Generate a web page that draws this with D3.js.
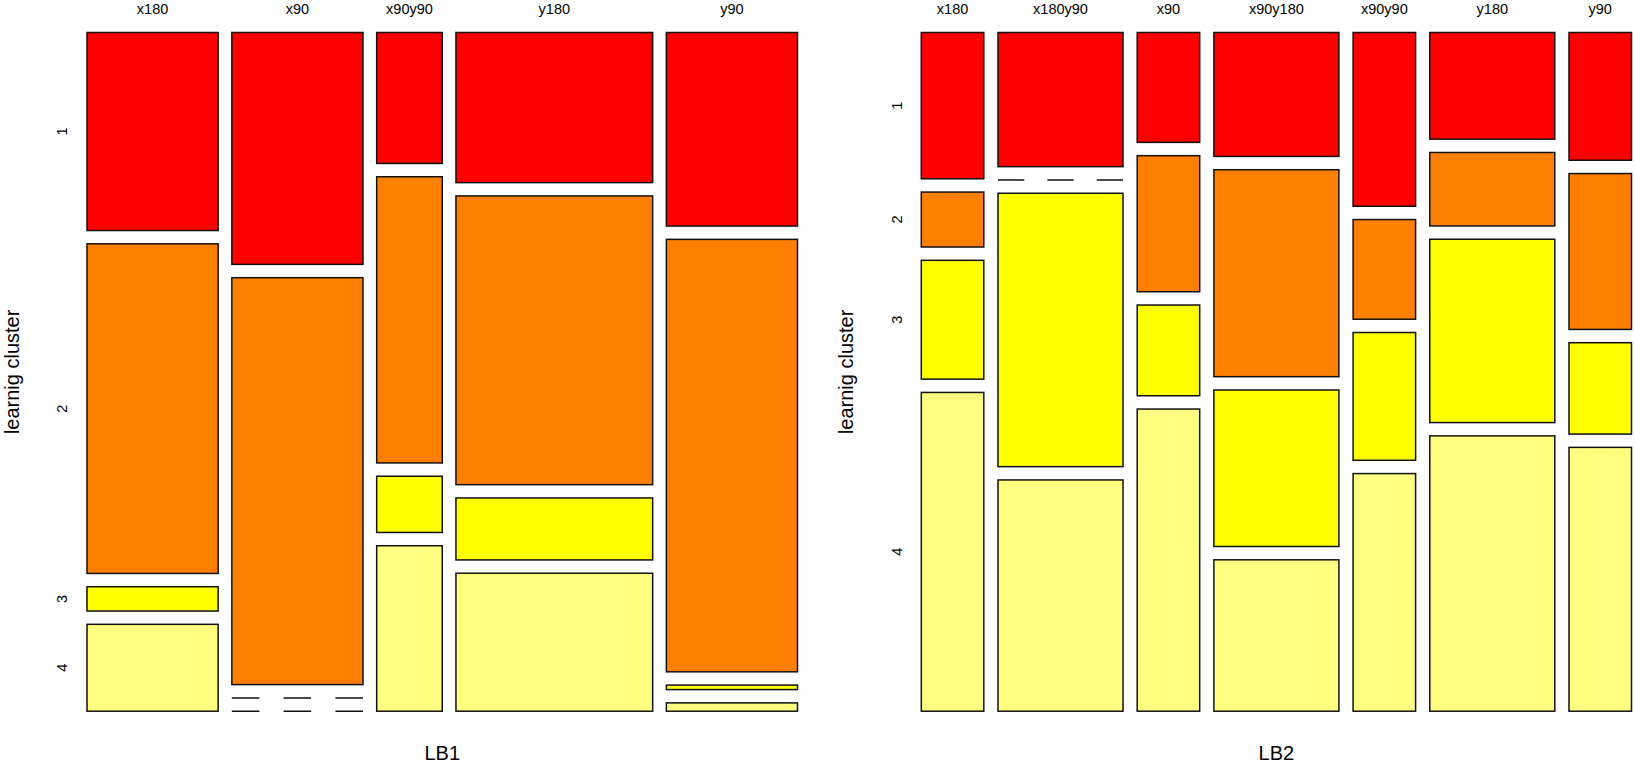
<!DOCTYPE html>
<html>
<head>
<meta charset="utf-8">
<script src="https://cdn.jsdelivr.net/npm/d3@7"></script>
<style>
    body { margin: 0; background: #fff; }
    svg text { font-family: "Liberation Sans", Arial, sans-serif; fill: #000; }
</style>
</head>
<body>
<div id="mosaic"></div>
<script>
// Learning cluster levels (rows) and their fill colours (heat colours)
const clusters = ["1", "2", "3", "4"];
const clusterColors = ["#FF0000", "#FF8000", "#FFFF00", "#FFFF80"];

// LB1 categories, column weights (% of total) and cluster shares within each column (%)
const lb1Levels = ["x180", "x90", "x90y90", "y180", "y90"];
const lb1Weights = [20, 20, 10, 30, 20];
const lb1Shares = [
    [31.0, 51.6, 3.8, 13.6],
    [36.3, 63.7, 0, 0],
    [20.5, 44.8, 8.8, 25.9],
    [23.5, 45.2, 9.7, 21.6],
    [30.3, 67.7, 0.7, 1.3]
];

// LB2 categories, column weights and cluster shares
const lb2Levels = ["x180", "x180y90", "x90", "x90y180", "x90y90", "y180", "y90"];
const lb2Weights = [10, 20, 10, 20, 10, 20, 10];
const lb2Shares = [
    [22.9, 8.6, 18.6, 49.9],
    [21.0, 0, 42.8, 36.2],
    [17.2, 21.3, 14.2, 47.3],
    [19.4, 32.4, 24.5, 23.7],
    [27.2, 15.6, 20.0, 37.2],
    [16.7, 11.5, 28.7, 43.1],
    [20.0, 24.4, 14.3, 41.3]
];

const width = 1635, height = 764;
const plotTop = 32.5, plotBottom = 711.2;
const vGap = 13.3;

const svg = d3.select("#mosaic")
    .append("svg")
    .attr("width", width)
    .attr("height", height);

// Draw one mosaic panel
function drawMosaic(levels, weights, shares, opt) {
    const g = svg.append("g");
    const n = levels.length;
    const totalW = d3.sum(weights);

    // gaps expressed in data units so that the scale includes them
    const hGapU = opt.hGap * totalW / ((opt.x1 - opt.x0) - (n - 1) * opt.hGap);
    const xScale = d3.scaleLinear()
        .domain([0, totalW + (n - 1) * hGapU])
        .range([opt.x0, opt.x1]);

    const nr = clusters.length;
    const vGapU = vGap * 100 / ((plotBottom - plotTop) - (nr - 1) * vGap);
    const yScale = d3.scaleLinear()
        .domain([0, 100 + (nr - 1) * vGapU])
        .range([plotTop, plotBottom]);

    // Build cells
    const cells = [];
    let cumX = 0;
    levels.forEach((lev, i) => {
        const xl = xScale(cumX + i * hGapU);
        const xr = xScale(cumX + weights[i] + i * hGapU);
        let cumY = 0;
        clusters.forEach((c, j) => {
            const v = shares[i][j];
            cells.push({
                col: i, row: j, value: v,
                x0: xl, x1: xr,
                y0: yScale(cumY + j * vGapU),
                y1: yScale(cumY + v + j * vGapU)
            });
            cumY += v;
        });
        // column label
        g.append("text")
            .attr("x", (xl + xr) / 2)
            .attr("y", 13.5)
            .attr("text-anchor", "middle")
            .style("font-size", "14.5px")
            .text(lev);
        cumX += weights[i];
    });

    // Non-empty cells as rectangles
    g.selectAll(".cell")
        .data(cells.filter(d => d.value > 0))
        .enter()
        .append("rect")
        .attr("class", "cell")
        .attr("x", d => d.x0)
        .attr("y", d => d.y0)
        .attr("width", d => d.x1 - d.x0)
        .attr("height", d => d.y1 - d.y0)
        .attr("fill", d => clusterColors[d.row])
        .attr("stroke", "#111")
        .attr("stroke-width", 1.5);

    // Empty cells as dashed lines
    g.selectAll(".zero")
        .data(cells.filter(d => d.value === 0))
        .enter()
        .append("line")
        .attr("class", "zero")
        .attr("x1", d => d.x0)
        .attr("x2", d => d.x1)
        .attr("y1", d => d.y0)
        .attr("y2", d => d.y0)
        .attr("stroke", "#111")
        .attr("stroke-width", 1.5)
        .attr("stroke-dasharray", d => {
            const w = d.x1 - d.x0;
            return `${w * 0.21},${w * 0.185}`;
        });

    // Row labels placed at the cells of the first column
    cells.filter(d => d.col === 0).forEach(d => {
        g.append("text")
            .attr("transform", `translate(${opt.tickX},${(d.y0 + d.y1) / 2}) rotate(-90)`)
            .attr("text-anchor", "middle")
            .style("font-size", "14.5px")
            .text(clusters[d.row]);
    });

    // Axis titles
    g.append("text")
        .attr("transform", `translate(${opt.labelX},${(plotTop + plotBottom) / 2}) rotate(-90)`)
        .attr("text-anchor", "middle")
        .style("font-size", "20px")
        .text("learnig cluster");

    g.append("text")
        .attr("x", (opt.x0 + opt.x1) / 2)
        .attr("y", 760)
        .attr("text-anchor", "middle")
        .style("font-size", "20px")
        .text(opt.title);
}

drawMosaic(lb1Levels, lb1Weights, lb1Shares,
    { x0: 87, x1: 797.5, hGap: 13.7, tickX: 66.5, labelX: 19, title: "LB1" });
drawMosaic(lb2Levels, lb2Weights, lb2Shares,
    { x0: 921.3, x1: 1631.5, hGap: 14.2, tickX: 901.5, labelX: 853, title: "LB2" });
</script>
</body>
</html>
